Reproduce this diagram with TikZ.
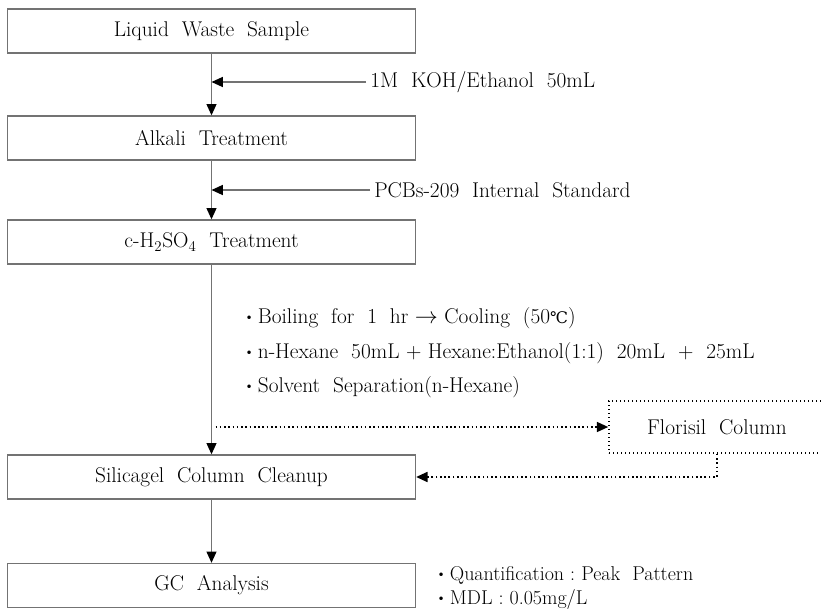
\documentclass[tikz,border=0pt]{standalone}
\usepackage{fontspec}
\newfontfamily\symfont{DejaVu Serif}
\usetikzlibrary{arrows.meta, positioning}

\newcommand{\bul}{\raisebox{0.35ex}{\small\textbullet}\kern3pt}

\begin{document}
\begin{tikzpicture}
        [x=0.75pt, y=-0.75pt,
        stage/.style={rectangle, draw=black!55, line width=1pt, fill=white,
          minimum width=306pt, minimum height=33pt, inner sep=0pt,
          font=\fontsize{16}{19}\selectfont},
        side/.style={dotted, draw=black, line width=1.2pt},
        note/.style={anchor=west, inner sep=3pt, font=\fontsize{16}{19}\selectfont},
        arr/.style={-{Triangle[length=8.5pt, width=7.5pt, color=black]}, draw=black!55, line width=1pt},
        darr/.style={side, -{Triangle[length=8.5pt, width=7.5pt, color=black]}}]
        \clip (0,0) rectangle (821,614);
        \node (liquid) at (211.5,31) [stage] {Liquid\ \ Waste\ \ Sample};
        \node (alkali) at (211.5,138) [stage] {Alkali\ \ Treatment};
        \node (acid) at (211.5,242) [stage] {c-H\textsubscript{2}SO\textsubscript{4}\ \ Treatment};
        \node (silica) at (211.5,477) [stage] {Silicagel\ \ Column\ \ Cleanup};
        \node (gc) at (211.5,585.5) [stage] {GC\ \ Analysis};
        \node (florisil) at (717,427) [stage, side, minimum width=162pt, minimum height=39pt] {Florisil\ \ Column};
        \node (koh) at (366,82) [note] {1M\ \ KOH/Ethanol\ \ 50mL};
        \node (pcb) at (370,190) [note] {PCBs-209\ \ Internal\ \ Standard};
        \node (steps) at (240,353) [note, align=left, font=\fontsize{16}{26}\selectfont]
          {\bul Boiling\ \ for\ \ 1\ \ hr\ $\rightarrow$\ Cooling\ \ (50{\symfont\fontsize{12}{14}\selectfont ℃})\\
           \bul n-Hexane\ \ 50mL\ +\ Hexane:Ethanol(1:1)\ \ 20mL\ \ +\ \ 25mL\\
           \bul Solvent\ \ Separation(n-Hexane)};
        \node (result) at (432,588) [note, align=left, font=\fontsize{15}{18}\selectfont]
          {\bul Quantification\ :\ Peak\ \ Pattern\\
           \bul MDL\ :\ 0.05mg/L};
        \coordinate (tap) at (florisil.west -| acid.south);
        \draw[arr] (liquid) -- (alkali);
        \draw[arr] (alkali) -- (acid);
        \draw[arr] (acid) -- (silica);
        \draw[arr] (silica) -- (gc);
        \draw[arr] (koh.west) -- (koh.west -| liquid.south);
        \draw[arr] (pcb.west) -- (pcb.west -| alkali.south);
        \draw[darr] ([xshift=3pt]tap) -- (florisil.west);
        \draw[darr] (florisil.south) |- (silica.east);
     \end{tikzpicture}
\end{document}
